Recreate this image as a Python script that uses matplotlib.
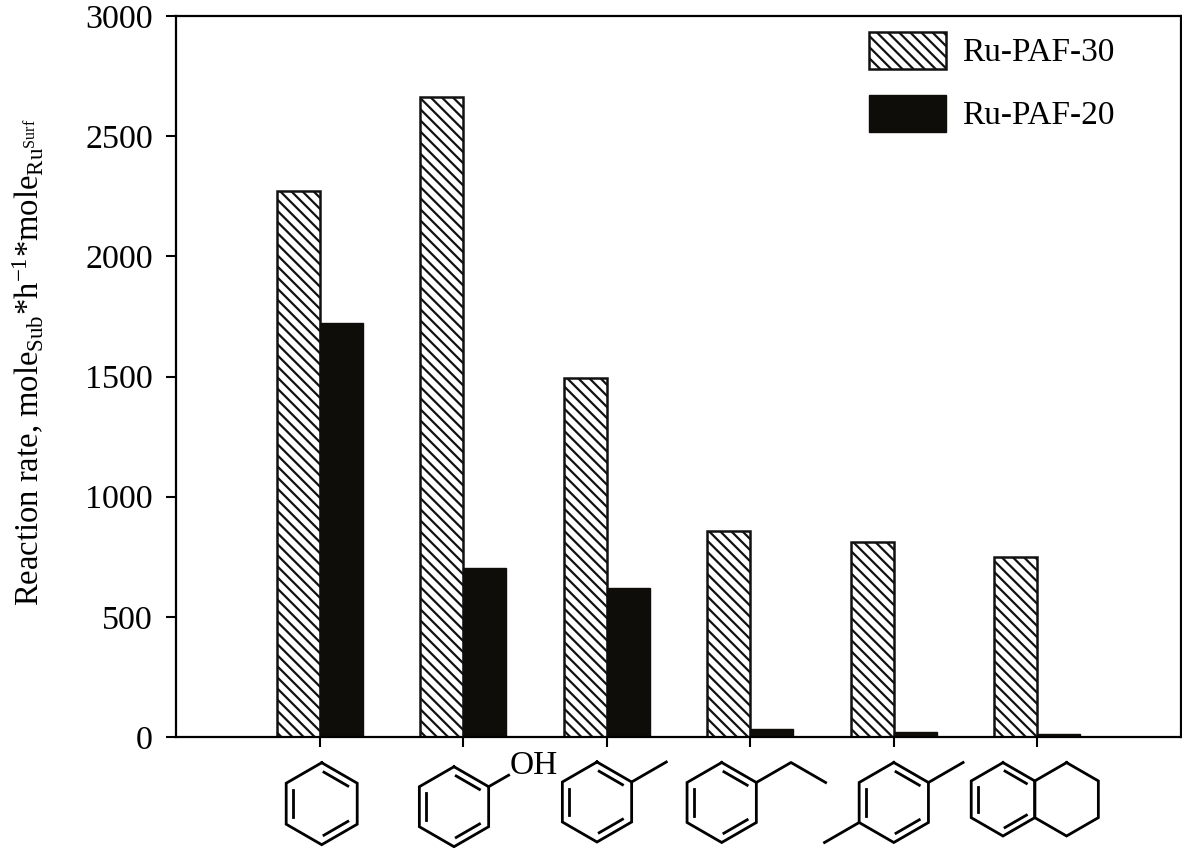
#!/usr/bin/env python

import numpy as np
import matplotlib
matplotlib.use("Agg")
import matplotlib.pyplot as plt

plt.rcParams["font.family"] = ["Liberation Serif", "DejaVu Serif"]
plt.rcParams["mathtext.fontset"] = "custom"
plt.rcParams["mathtext.rm"] = "Liberation Serif"
plt.rcParams["mathtext.it"] = "Liberation Serif:italic"
plt.rcParams["mathtext.default"] = "rm"
plt.rcParams["hatch.linewidth"] = 1.6

# one position per substrate, left to right:
# benzene, phenol, toluene, ethylbenzene, p-xylene, tetralin
positions = [1, 2, 3, 4, 5, 6]
ru_paf_30 = [2272, 2662, 1492, 857, 812, 747]
ru_paf_20 = [1722, 702, 622, 32, 22, 12]
yticks = [0, 500, 1000, 1500, 2000, 2500, 3000]

W, H = 1182, 848


def ring(ax, cx, cy, r, doubles=(0, 2, 4)):
    # flat sides left and right, vertices numbered clockwise from the top
    ang = np.radians([90, 30, -30, -90, -150, 150])
    vx = cx + r * np.cos(ang)
    vy = cy - r * np.sin(ang)
    ax.plot(list(vx) + [vx[0]], list(vy) + [vy[0]], color="black", lw=2.0,
            solid_joinstyle="miter")
    for i in doubles:
        j = (i + 1) % 6
        # inner line of a double bond, pulled in and shortened
        a = np.array([vx[i], vy[i]])
        b = np.array([vx[j], vy[j]])
        c = np.array([cx, cy])
        a2 = a + (c - a) * 0.2
        b2 = b + (c - b) * 0.2
        d = (b2 - a2) * 0.08
        ax.plot([a2[0] + d[0], b2[0] - d[0]], [a2[1] + d[1], b2[1] - d[1]],
                color="black", lw=2.0)
    return vx, vy


def bond(ax, xs, ys):
    ax.plot(xs, ys, color="black", lw=2.0)


def main():
    fig = plt.figure(figsize=(W / 100, H / 100), dpi=100)
    ax = fig.add_axes([176 / W, 1 - 737 / H, (1181 - 176) / W, (737 - 16) / H])

    x = np.array(positions)
    width = 0.3
    ax.bar(x - width / 2, ru_paf_30, width, color="white", edgecolor="#111111",
           hatch="\\\\\\", linewidth=1.8, label="Ru-PAF-30")
    ax.bar(x + width / 2, ru_paf_20, width, color="#0e0d0a", edgecolor="#0e0d0a",
           linewidth=1.0, label="Ru-PAF-20")

    ax.set_xlim(0, 7)
    ax.set_ylim(0, 3000)
    ax.set_xticks(positions)
    ax.set_xticklabels([])
    ax.set_yticks(yticks)
    ax.tick_params(axis="both", direction="out", length=7.5, width=1.5,
                   labelsize=24.5, pad=9)
    for s in ax.spines.values():
        s.set_linewidth(1.6)

    ax.set_ylabel(r"Reaction rate, mole$_{Sub}$*h$^{-1}$*mole$_{Ru^{Surf}}$",
                  fontsize=23.5)
    ax.yaxis.set_label_coords((46 - 176) / (1181 - 176), (737 - 362) / (737 - 16))

    ax.legend(loc="upper left", bbox_to_anchor=(0.6895, 0.978), frameon=False,
              fontsize=24, handlelength=2.3, handleheight=1.33,
              labelspacing=0.78, handletextpad=0.48, borderaxespad=0,
              borderpad=0)

    # overlay in image pixels for the structure drawings under the axis
    ov = fig.add_axes([0, 0, 1, 1])
    ov.set_xlim(0, W)
    ov.set_ylim(H, 0)
    ov.axis("off")
    ov.patch.set_alpha(0)

    r = 40
    c30 = np.cos(np.radians(30))

    ring(ov, 321.7, 803.7, 41, doubles=(0, 2, 4))

    # phenol
    vx, vy = ring(ov, 454, 806.7, r, doubles=(0, 2, 4))
    bond(ov, [vx[1], vx[1] + 20], [vy[1], vy[1] - 11.5])
    ov.text(534, 766, "OH", fontsize=24, ha="center", va="center")

    # toluene
    vx, vy = ring(ov, 597, 802, r, doubles=(0, 2, 4))
    bond(ov, [vx[1], vx[1] + r * c30], [vy[1], vy[1] - r / 2])

    # ethylbenzene
    vx, vy = ring(ov, 721.7, 802.5, r, doubles=(0, 2, 4))
    bond(ov, [vx[1], vx[1] + r * c30, vx[1] + 2 * r * c30],
         [vy[1], vy[1] - r / 2, vy[1]])

    # p-xylene
    vx, vy = ring(ov, 893.8, 802.5, r, doubles=(0, 2, 4))
    bond(ov, [vx[1], vx[1] + r * c30], [vy[1], vy[1] - r / 2])
    bond(ov, [vx[4], vx[4] - r * c30], [vy[4], vy[4] + r / 2])

    # tetralin
    rt = 36.7
    cx, cy = 1003, 799.3
    ring(ov, cx, cy, rt, doubles=(0, 2, 4))
    ring(ov, cx + 2 * rt * c30, cy, rt, doubles=())

    fig.savefig("out.png", dpi=100)


if __name__ == "__main__":
    main()
